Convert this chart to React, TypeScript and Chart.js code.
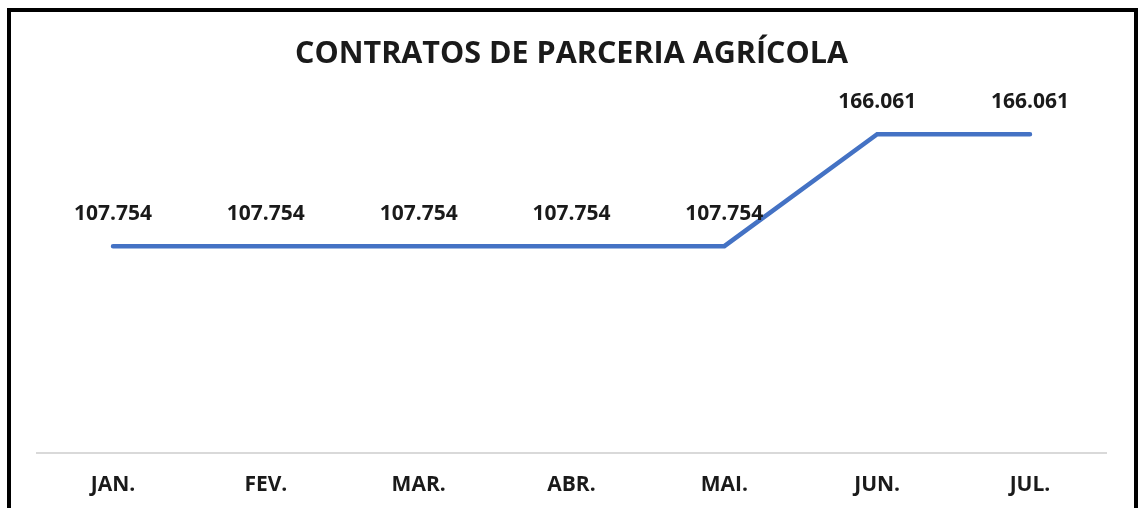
import React, { useEffect, useRef } from "react";
import { Chart, registerables } from "chart.js";

Chart.register(...registerables);

const TITLE = "CONTRATOS DE PARCERIA AGRÍCOLA";
const months = ["JAN.", "FEV.", "MAR.", "ABR.", "MAI.", "JUN.", "JUL."];
const contracts = [107.754, 107.754, 107.754, 107.754, 107.754, 166.061, 166.061];

const FONT = "'Open Sans', sans-serif";
const TEXT = "#1a1a1a";

const fmt = (v: number) => v.toFixed(3);

const labelPlugin = {
  id: "pointLabels",
  afterDatasetsDraw(chart: any) {
    const ctx = chart.ctx;
    const meta = chart.getDatasetMeta(0);
    ctx.save();
    ctx.font = `bold 21px ${FONT}`;
    ctx.fillStyle = TEXT;
    ctx.textAlign = "center";
    ctx.textBaseline = "middle";
    meta.data.forEach((pt: any, i: number) => {
      ctx.fillText(fmt(contracts[i]), pt.x, pt.y - 32);
    });
    ctx.restore();
  },
};

export default function App() {
  const ref = useRef<HTMLCanvasElement>(null);
  useEffect(() => {
    if (!ref.current) return;
    const chart = new Chart(ref.current, {
      type: "line",
      data: {
        labels: months,
        datasets: [
          {
            data: contracts,
            borderColor: "#4472C4",
            borderWidth: 4.5,
            borderCapStyle: "round",
            borderJoinStyle: "miter",
            pointRadius: 0,
            pointHoverRadius: 0,
            tension: 0,
            fill: false,
          },
        ],
      },
      options: {
        responsive: false,
        animation: false,
        events: [],
        layout: { padding: { left: 36.6, right: 38.6, top: 0, bottom: 0 } },
        plugins: {
          legend: { display: false },
          tooltip: { enabled: false },
          title: {
            display: true,
            text: TITLE,
            color: TEXT,
            font: { family: FONT, size: 30.5, weight: "bold" },
            padding: { top: 35.7, bottom: 35.2 },
          },
        },
        scales: {
          x: {
            offset: true,
            grid: { display: false, drawTicks: false },
            border: { display: true, color: "#d9d9d9", width: 2 },
            ticks: {
              color: TEXT,
              padding: 19,
              font: { family: FONT, size: 21, weight: "bold" },
              maxRotation: 0,
            },
            afterFit: (scale: any) => {
              scale.height = 55;
            },
          },
          y: {
            display: false,
            min: 0,
            max: 180,
          },
        },
      },
      plugins: [labelPlugin],
    });
    return () => chart.destroy();
  }, []);

  return (
    <div style={{ position: "absolute", left: 0, top: 0, width: 1145, height: 508, overflow: "hidden", background: "#fff" }}>
      <canvas ref={ref} width={1145} height={508} style={{ position: "absolute", left: 0, top: 0, width: 1145, height: 508 }} />
      <div
        style={{
          position: "absolute",
          left: 7,
          top: 8,
          width: 1131,
          height: 530,
          boxSizing: "border-box",
          border: "4px solid #000",
          pointerEvents: "none",
        }}
      />
    </div>
  );
}
